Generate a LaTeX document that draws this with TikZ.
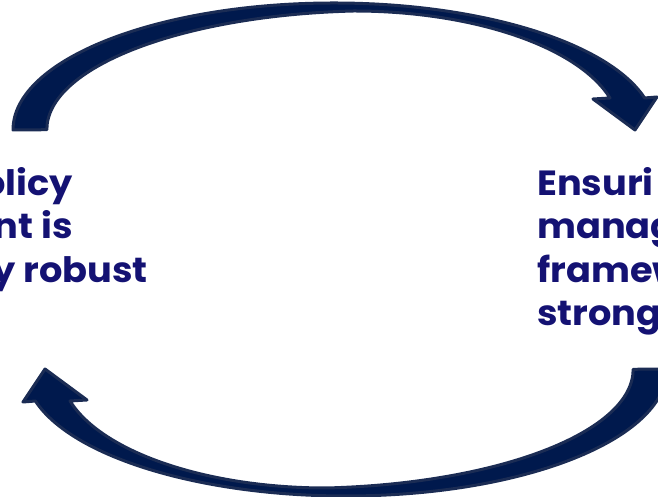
\documentclass[tikz,border=0pt]{standalone}
\usepackage{fontspec}
\setmainfont{Poppins}[FakeStretch=1.05]
\definecolor{arrowfill}{RGB}{0,25,77}
\definecolor{arrowline}{RGB}{27,44,84}
\definecolor{txt}{RGB}{20,18,115}
\begin{document}
\begin{tikzpicture}[x=1pt,y=1pt,
  bigarrow/.style={fill=arrowfill,draw=arrowline,line width=3pt,line join=round},
  lbl/.style={inner sep=0pt,text=txt,font=\fontsize{35}{43}\selectfont\bfseries}]
\useasboundingbox (0,0) rectangle (658,497);
% top curved arrow (left to right)
\path[bigarrow] (13,367)
  arc[start angle=180, end angle=14.6, x radius=321pt, y radius=127pt]
  -- (657,400) -- (635,367) -- (593,398) -- (610,399)
  arc[start angle=15.6, end angle=90, x radius=266pt, y radius=119pt]
  arc[start angle=94, end angle=180, x radius=330pt, y radius=119pt]
  -- cycle;
% bottom curved arrow (right to left)
\path[bigarrow, rotate around={180:(340,247.5)}] (13,367)
  arc[start angle=180, end angle=14.6, x radius=321pt, y radius=127pt]
  -- (657,400) -- (635,367) -- (593,398) -- (610,399)
  arc[start angle=15.6, end angle=90, x radius=266pt, y radius=119pt]
  arc[start angle=94, end angle=180, x radius=330pt, y radius=119pt]
  -- cycle;
% left text (cropped)
\node[lbl,anchor=base east] (l1) at (73,301.5) {olicy};
\node[lbl,anchor=base east] (l2) at (73,258.2) {nt is};
\node[lbl,anchor=base east] (l3) at (148,214.9) {y robust};
% right text (cropped)
\node[lbl,anchor=base west] (r1) at (537,301.5) {Ensuri};
\node[lbl,anchor=base west] (r2) at (537,258.2) {manag};
\node[lbl,anchor=base west] (r3) at (537,214.9) {framew};
\node[lbl,anchor=base west] (r4) at (537,171.6) {strong};
\end{tikzpicture}
\end{document}
